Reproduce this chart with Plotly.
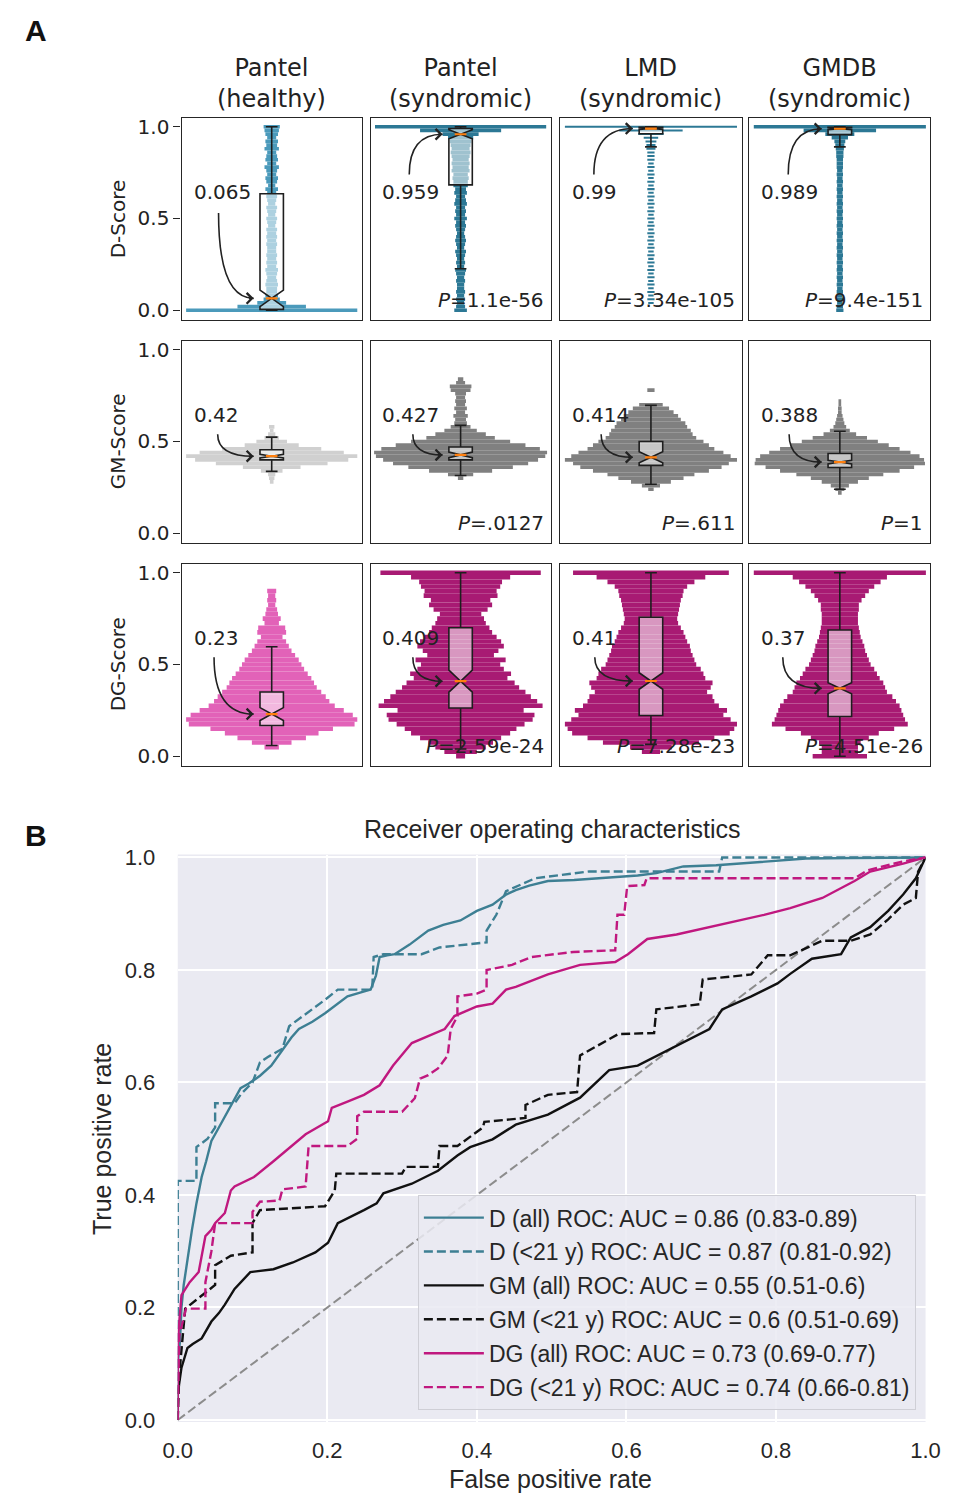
import plotly.graph_objects as go

W, H = 958, 1506

# ---------------- Panel A data ----------------
COLUMNS = ["Pantel<br>(healthy)", "Pantel<br>(syndromic)", "LMD<br>(syndromic)", "GMDB<br>(syndromic)"]
SCORES = ["D-Score", "GM-Score", "DG-Score"]

D_BINS = [0.00, 0.02, 0.04, 0.06, 0.08, 0.10, 0.12, 0.14, 0.16, 0.18, 0.20, 0.22, 0.24, 0.26, 0.28,
          0.30, 0.32, 0.34, 0.36, 0.38, 0.40, 0.42, 0.44, 0.46, 0.48, 0.50, 0.52, 0.54, 0.56, 0.58,
          0.60, 0.62, 0.64, 0.66, 0.68, 0.70, 0.72, 0.74, 0.76, 0.78, 0.80, 0.82, 0.84, 0.86, 0.88,
          0.90, 0.92, 0.94, 0.96, 0.98, 1.00]
GM_BINS = [0.20, 0.22, 0.24, 0.26, 0.28, 0.30, 0.32, 0.34, 0.36, 0.38, 0.40, 0.42, 0.44, 0.46, 0.48,
           0.50, 0.52, 0.54, 0.56, 0.58, 0.60, 0.62, 0.64, 0.66, 0.68, 0.70, 0.72, 0.74, 0.76, 0.78,
           0.80, 0.82, 0.84, 0.86]
DG_BINS = [0.000, 0.025, 0.050, 0.075, 0.100, 0.125, 0.150, 0.175, 0.200, 0.225, 0.250, 0.275, 0.300,
           0.325, 0.350, 0.375, 0.400, 0.425, 0.450, 0.475, 0.500, 0.525, 0.550, 0.575, 0.600, 0.625,
           0.650, 0.675, 0.700, 0.725, 0.750, 0.775, 0.800, 0.825, 0.850, 0.875, 0.900, 0.925, 0.950,
           0.975, 1.000]

# half-widths of the swarm at each bin (fraction of panel half width)
d_healthy = [0.95, 0.38, 0.16, 0.09, 0.07, 0.06, 0.06, 0.07, 0.06, 0.05,
             0.06, 0.07, 0.05, 0.06, 0.05, 0.06, 0.05, 0.05, 0.06, 0.05,
             0.06, 0.05, 0.06, 0.04, 0.05, 0.06, 0.04, 0.05, 0.06, 0.04,
             0.05, 0.06, 0.05, 0.07, 0.04, 0.06, 0.07, 0.05, 0.06, 0.08,
             0.05, 0.07, 0.06, 0.05, 0.08, 0.06, 0.07, 0.05, 0.07, 0.08, 0.09]
d_pantel = [0.07, 0.05, 0.04, 0.05, 0.04, 0.05, 0.04, 0.04, 0.05, 0.04,
            0.05, 0.06, 0.04, 0.05, 0.04, 0.05, 0.06, 0.04, 0.05, 0.06,
            0.05, 0.04, 0.05, 0.06, 0.05, 0.07, 0.05, 0.06, 0.05, 0.07,
            0.06, 0.05, 0.07, 0.06, 0.08, 0.08, 0.09, 0.08, 0.10, 0.09,
            0.10, 0.09, 0.10, 0.11, 0.10, 0.11, 0.12, 0.14, 0.20, 0.45, 0.95]
d_lmd = [0.00, 0.00, 0.03, 0.04, 0.03, 0.04, 0.03, 0.04, 0.03, 0.04,
         0.03, 0.04, 0.03, 0.04, 0.03, 0.04, 0.03, 0.04, 0.03, 0.04,
         0.03, 0.04, 0.03, 0.04, 0.03, 0.04, 0.03, 0.04, 0.03, 0.04,
         0.03, 0.04, 0.03, 0.04, 0.03, 0.04, 0.03, 0.04, 0.03, 0.04,
         0.03, 0.04, 0.04, 0.04, 0.05, 0.05, 0.06, 0.08, 0.14, 0.35, 0.95]
d_gmdb = [0.04, 0.035, 0.03, 0.035, 0.03, 0.035, 0.03, 0.035, 0.03, 0.035,
          0.03, 0.035, 0.03, 0.035, 0.03, 0.035, 0.03, 0.035, 0.03, 0.035,
          0.03, 0.035, 0.03, 0.035, 0.03, 0.035, 0.03, 0.035, 0.03, 0.035,
          0.03, 0.035, 0.03, 0.035, 0.03, 0.035, 0.03, 0.035, 0.03, 0.035,
          0.035, 0.035, 0.04, 0.04, 0.045, 0.05, 0.06, 0.09, 0.16, 0.40, 0.95]

gm_healthy = [0, 0, 0, 0, 0.02, 0.03, 0.04, 0.12, 0.32, 0.62, 0.85, 0.95, 0.80, 0.55, 0.30, 0.17, 0.08,
              0.04, 0.02, 0.03, 0, 0, 0, 0, 0, 0, 0, 0, 0, 0, 0, 0, 0, 0]
gm_pantel = [0, 0, 0, 0, 0, 0.03, 0.14, 0.35, 0.58, 0.75, 0.86, 0.94, 0.96, 0.88, 0.72, 0.55, 0.38,
             0.28, 0.18, 0.11, 0.07, 0.06, 0.08, 0.05, 0.07, 0.05, 0.06, 0.05, 0.06, 0.11, 0.12, 0.05,
             0.03, 0]
gm_lmd = [0, 0, 0.03, 0.10, 0.22, 0.36, 0.48, 0.64, 0.78, 0.86, 0.95, 0.88, 0.80, 0.70, 0.64, 0.58,
          0.50, 0.46, 0.44, 0.40, 0.38, 0.33, 0.30, 0.25, 0.20, 0.13, 0, 0, 0, 0.04, 0, 0, 0, 0]
gm_gmdb = [0, 0.02, 0.05, 0.10, 0.20, 0.32, 0.48, 0.66, 0.82, 0.94, 0.93, 0.88, 0.78, 0.66, 0.54,
           0.42, 0.30, 0.18, 0.11, 0.07, 0.05, 0.04, 0.03, 0.02, 0.02, 0.015, 0.015, 0, 0, 0, 0, 0,
           0, 0]

dg_healthy = [0, 0, 0.08, 0.22, 0.38, 0.52, 0.68, 0.92, 0.95, 0.90, 0.80, 0.70, 0.64, 0.60, 0.55,
              0.50, 0.47, 0.44, 0.40, 0.36, 0.33, 0.30, 0.26, 0.22, 0.19, 0.16, 0.12, 0.16, 0.15,
              0.08, 0.10, 0.07, 0.06, 0.04, 0.05, 0.04, 0.05, 0, 0, 0, 0]
dg_pantel = [0.05, 0.18, 0.28, 0.36, 0.45, 0.55, 0.62, 0.71, 0.80, 0.82, 0.70, 0.91, 0.85, 0.78,
             0.72, 0.65, 0.60, 0.52, 0.56, 0.48, 0.44, 0.50, 0.37, 0.42, 0.48, 0.45, 0.40, 0.35,
             0.32, 0.28, 0.26, 0.23, 0.30, 0.35, 0.33, 0.41, 0.40, 0.44, 0.46, 0.55, 0.89]
dg_lmd = [0, 0.10, 0.23, 0.53, 0.70, 0.87, 0.92, 0.95, 0.88, 0.80, 0.84, 0.75, 0.70, 0.68, 0.62,
          0.66, 0.68, 0.60, 0.58, 0.55, 0.50, 0.48, 0.46, 0.44, 0.43, 0.40, 0.38, 0.36, 0.33, 0.30,
          0.29, 0.30, 0.31, 0.32, 0.33, 0.35, 0.36, 0.40, 0.48, 0.60, 0.86]
dg_gmdb = [0.30, 0.20, 0.20, 0.23, 0.32, 0.43, 0.60, 0.75, 0.72, 0.70, 0.68, 0.66, 0.62, 0.58, 0.52,
           0.50, 0.48, 0.44, 0.41, 0.38, 0.34, 0.32, 0.30, 0.28, 0.27, 0.25, 0.23, 0.22, 0.21, 0.20,
           0.20, 0.20, 0.21, 0.21, 0.24, 0.28, 0.32, 0.38, 0.45, 0.52, 0.95]

SWARMS = [[d_healthy, d_pantel, d_lmd, d_gmdb],
          [gm_healthy, gm_pantel, gm_lmd, gm_gmdb],
          [dg_healthy, dg_pantel, dg_lmd, dg_gmdb]]
ROW_BINS = [D_BINS, GM_BINS, DG_BINS]

# box statistics
BOX_Q1 = [[0.005, 0.683, 0.962, 0.957], [0.40, 0.40, 0.37, 0.358], [0.168, 0.263, 0.222, 0.217]]
BOX_MED = [[0.065, 0.959, 0.99, 0.989], [0.42, 0.427, 0.414, 0.388], [0.23, 0.409, 0.41, 0.37]]
BOX_Q3 = [[0.635, 0.99, 0.997, 0.997], [0.455, 0.47, 0.50, 0.435], [0.35, 0.70, 0.757, 0.688]]
BOX_LO = [[0.0, 0.226, 0.89, 0.89], [0.337, 0.315, 0.267, 0.24], [0.059, 0.04, 0.065, 0.0]]
BOX_HI = [[1.0, 1.0, 1.0, 1.0], [0.524, 0.588, 0.697, 0.556], [0.597, 1.0, 1.0, 1.0]]
BOX_NOTCH = [[0.045, 0.025, 0.005, 0.005], [0.01, 0.015, 0.03, 0.01], [0.035, 0.06, 0.045, 0.03]]

MED_LABELS = [["0.065", "0.959", "0.99", "0.989"],
              ["0.42", "0.427", "0.414", "0.388"],
              ["0.23", "0.409", "0.41", "0.37"]]
P_LABELS = [["", "1.1e-56", "3.34e-105", "9.4e-151"],
            ["", ".0127", ".611", "1"],
            ["", "2.59e-24", "7.28e-23", "4.51e-26"]]

# ---------------- Panel B data (ROC) ----------------
ROC_NAMES = ["D (all) ROC: AUC = 0.86 (0.83-0.89)", "D (<21 y) ROC: AUC = 0.87 (0.81-0.92)",
             "GM (all) ROC: AUC = 0.55 (0.51-0.6)", "GM (<21 y) ROC: AUC = 0.6 (0.51-0.69)",
             "DG (all) ROC: AUC = 0.73 (0.69-0.77)", "DG (<21 y) ROC: AUC = 0.74 (0.66-0.81)"]

d_all_fpr = [0, 0, 0.003, 0.005, 0.008, 0.011, 0.015, 0.019, 0.025, 0.032, 0.038, 0.045, 0.055, 0.067,
             0.076, 0.084, 0.095, 0.11, 0.125, 0.141, 0.152, 0.162, 0.18, 0.197, 0.212, 0.227, 0.245,
             0.258, 0.265, 0.27, 0.28, 0.29, 0.31, 0.335, 0.355, 0.378, 0.40, 0.421, 0.439, 0.452,
             0.47, 0.495, 0.53, 0.56, 0.59, 0.615, 0.64, 0.665, 0.676, 0.72, 0.76, 0.797, 0.84, 0.9,
             0.95, 1.0]
d_all_tpr = [0, 0.10, 0.14, 0.2, 0.24, 0.268, 0.3, 0.338, 0.385, 0.432, 0.46, 0.496, 0.52, 0.548,
             0.57, 0.59, 0.598, 0.612, 0.63, 0.66, 0.68, 0.695, 0.708, 0.723, 0.738, 0.753, 0.76,
             0.765, 0.79, 0.823, 0.826, 0.828, 0.845, 0.87, 0.88, 0.888, 0.905, 0.916, 0.934, 0.942,
             0.95, 0.958, 0.96, 0.963, 0.966, 0.968, 0.972, 0.98, 0.984, 0.986, 0.99, 0.993, 0.998,
             0.999, 1.0, 1.0]
d_y21_fpr = [0, 0, 0.025, 0.025, 0.03, 0.04, 0.05, 0.05, 0.076, 0.085, 0.1, 0.11, 0.12, 0.14, 0.149,
             0.17, 0.197, 0.214, 0.24, 0.26, 0.262, 0.275, 0.326, 0.35, 0.413, 0.413, 0.426, 0.439,
             0.478, 0.55, 0.624, 0.724, 0.728, 1.0]
d_y21_tpr = [0, 0.425, 0.425, 0.485, 0.49, 0.5, 0.52, 0.563, 0.563, 0.58, 0.6, 0.636, 0.645, 0.66,
             0.70, 0.72, 0.747, 0.765, 0.765, 0.765, 0.823, 0.828, 0.828, 0.84, 0.849, 0.87, 0.898,
             0.94, 0.963, 0.975, 0.975, 0.975, 1.0, 1.0]
gm_all_fpr = [0, 0, 0.005, 0.013, 0.02, 0.032, 0.045, 0.055, 0.063, 0.076, 0.097, 0.128, 0.154,
              0.184, 0.201, 0.214, 0.249, 0.266, 0.275, 0.313, 0.348, 0.374, 0.391, 0.421, 0.452,
              0.495, 0.538, 0.577, 0.615, 0.667, 0.711, 0.728, 0.767, 0.802, 0.819, 0.848, 0.887,
              0.9, 0.926, 0.95, 0.97, 0.987, 1.0]
gm_all_tpr = [0, 0.047, 0.093, 0.128, 0.135, 0.145, 0.175, 0.19, 0.205, 0.233, 0.263, 0.268, 0.28,
              0.298, 0.315, 0.35, 0.373, 0.385, 0.403, 0.42, 0.443, 0.47, 0.485, 0.499, 0.525,
              0.543, 0.573, 0.622, 0.63, 0.665, 0.695, 0.73, 0.753, 0.776, 0.793, 0.82, 0.828,
              0.858, 0.876, 0.905, 0.934, 0.963, 1.0]
gm_y21_fpr = [0, 0.002, 0.01, 0.032, 0.05, 0.05, 0.071, 0.1, 0.1, 0.11, 0.197, 0.21, 0.212, 0.3,
              0.305, 0.348, 0.35, 0.374, 0.408, 0.41, 0.465, 0.465, 0.495, 0.534, 0.538, 0.589,
              0.637, 0.64, 0.698, 0.702, 0.767, 0.789, 0.819, 0.862, 0.9, 0.926, 0.95, 0.97, 0.987,
              0.99, 1.0]
gm_y21_tpr = [0, 0.08, 0.198, 0.222, 0.24, 0.275, 0.292, 0.298, 0.35, 0.373, 0.38, 0.408, 0.438,
              0.438, 0.45, 0.45, 0.487, 0.487, 0.52, 0.53, 0.537, 0.56, 0.578, 0.583, 0.648, 0.686,
              0.688, 0.73, 0.739, 0.783, 0.792, 0.826, 0.826, 0.852, 0.852, 0.863, 0.89, 0.916,
              0.928, 0.975, 1.0]
dg_all_fpr = [0, 0, 0.005, 0.016, 0.028, 0.037, 0.045, 0.05, 0.063, 0.071, 0.076, 0.102, 0.128,
              0.154, 0.171, 0.201, 0.206, 0.227, 0.249, 0.27, 0.288, 0.313, 0.335, 0.357, 0.37,
              0.4, 0.421, 0.439, 0.452, 0.495, 0.538, 0.585, 0.602, 0.628, 0.667, 0.711, 0.754,
              0.784, 0.819, 0.862, 0.905, 0.926, 0.97, 1.0]
dg_all_tpr = [0, 0.14, 0.222, 0.245, 0.263, 0.327, 0.338, 0.35, 0.368, 0.408, 0.415, 0.432, 0.46,
              0.49, 0.508, 0.531, 0.555, 0.566, 0.578, 0.595, 0.63, 0.67, 0.683, 0.695, 0.718,
              0.735, 0.74, 0.765, 0.77, 0.792, 0.809, 0.814, 0.828, 0.855, 0.863, 0.876, 0.888,
              0.898, 0.91, 0.928, 0.958, 0.975, 0.989, 1.0]
dg_y21_fpr = [0, 0.002, 0.011, 0.037, 0.037, 0.045, 0.05, 0.1, 0.1, 0.11, 0.136, 0.14, 0.171, 0.175,
              0.227, 0.24, 0.24, 0.249, 0.3, 0.317, 0.324, 0.335, 0.348, 0.361, 0.365, 0.374, 0.374,
              0.4, 0.413, 0.413, 0.447, 0.473, 0.529, 0.585, 0.588, 0.597, 0.601, 0.624, 0.627,
              0.905, 0.922, 0.97, 1.0]
dg_y21_tpr = [0, 0.15, 0.198, 0.198, 0.245, 0.3, 0.35, 0.35, 0.37, 0.388, 0.39, 0.41, 0.415, 0.487,
              0.487, 0.5, 0.54, 0.548, 0.548, 0.572, 0.607, 0.613, 0.625, 0.648, 0.695, 0.718,
              0.753, 0.758, 0.765, 0.8, 0.809, 0.823, 0.832, 0.835, 0.898, 0.898, 0.949, 0.951,
              0.963, 0.963, 0.977, 0.993, 1.0]

ROC_FPR = [d_all_fpr, d_y21_fpr, gm_all_fpr, gm_y21_fpr, dg_all_fpr, dg_y21_fpr]
ROC_TPR = [d_all_tpr, d_y21_tpr, gm_all_tpr, gm_y21_tpr, dg_all_tpr, dg_y21_tpr]
ROC_TICKS = [0.0, 0.2, 0.4, 0.6, 0.8, 1.0]
ROC_TICK_LABELS = ["0.0", "0.2", "0.4", "0.6", "0.8", "1.0"]
A_TICKS = [0.0, 0.5, 1.0]
A_TICK_LABELS = ["0.0", "0.5", "1.0"]

# ---------------- styles ----------------
FONT_A = "DejaVu Sans"
FONT_B = "Liberation Sans"
TXT = "#222222"
SWARM_COLORS = [["#4b9abb", "#2c7895", "#2c7895", "#2c7895"],
                ["#d0d0d0", "#808080", "#808080", "#808080"],
                ["#e262b8", "#a81a73", "#a81a73", "#a81a73"]]
BAR_THICK = [[0.02, 0.02, 0.011, 0.02], [0.02] * 4, [0.025] * 4]
ROC_COLORS = ["#3d7f93", "#3d7f93", "#111111", "#111111", "#c0187f", "#c0187f"]
ROC_DASH = ["solid", "9px,4px", "solid", "9px,4px", "solid", "9px,4px"]

COL_PX = [(172, 358), (367, 553), (563, 750), (758, 945)]
ROW_PX = [(110, 315), (336, 541), (562, 767)]
ARROW_START = [[(-0.59, 0.53), (-0.57, 0.74), (-0.63, 0.74), (-0.57, 0.74)],
               [(-0.60, 0.54), (-0.53, 0.54), (-0.55, 0.54), (-0.56, 0.54)],
               [(-0.64, 0.54), (-0.53, 0.54), (-0.62, 0.54), (-0.63, 0.54)]]
BOX_W = 0.26


def aid(k):
    return "" if k == 1 else str(k)


fig = go.Figure()
layout = dict(width=W, height=H, margin=dict(l=0, r=0, t=0, b=0), paper_bgcolor="white",
              plot_bgcolor="white", barmode="overlay", showlegend=True,
              font=dict(family=FONT_A, color=TXT))
annotations = []
shapes = []

for r in range(3):
    for c in range(4):
        k = r * 4 + c + 1
        xa, ya = "x" + aid(k), "y" + aid(k)
        hw = SWARMS[r][c]
        fig.add_trace(go.Bar(orientation="h", y=ROW_BINS[r], x=[2 * w for w in hw],
                             base=[-w for w in hw], width=BAR_THICK[r][c],
                             marker=dict(color=SWARM_COLORS[r][c], line=dict(width=0)),
                             xaxis=xa, yaxis=ya, showlegend=False, hoverinfo="skip"))
        med = BOX_MED[r][c]
        fig.add_trace(go.Box(x=[0], q1=[BOX_Q1[r][c]], median=[med], q3=[BOX_Q3[r][c]],
                             lowerfence=[BOX_LO[r][c]], upperfence=[BOX_HI[r][c]],
                             notchspan=[BOX_NOTCH[r][c]], notched=True, notchwidth=0.5,
                             width=BOX_W, whiskerwidth=0.5, fillcolor="rgba(255,255,255,0.55)",
                             line=dict(color="#1e1e1e", width=1.6), boxpoints=False,
                             xaxis=xa, yaxis=ya, showlegend=False, hoverinfo="skip"))
        fig.add_trace(go.Scatter(x=[-BOX_W / 4, BOX_W / 4], y=[med, med], mode="lines",
                                 line=dict(color="#ff7f0e", width=2.2), xaxis=xa, yaxis=ya,
                                 showlegend=False, hoverinfo="skip"))
        x0, x1 = COL_PX[c]
        t0, b0 = ROW_PX[r]
        layout["xaxis" + aid(k)] = dict(domain=[x0 / W, x1 / W], range=[-1, 1], anchor=ya,
                                        showgrid=False, zeroline=False, showticklabels=False,
                                        ticks="", showline=True, mirror=True,
                                        linecolor="#262626", linewidth=1.4, fixedrange=True)
        layout["yaxis" + aid(k)] = dict(domain=[1 - b0 / H, 1 - t0 / H], range=[-0.052, 1.05],
                                        anchor=xa, showgrid=False, zeroline=False,
                                        tickvals=A_TICKS, ticktext=A_TICK_LABELS,
                                        showticklabels=(c == 0),
                                        ticks="outside" if c == 0 else "", ticklen=7,
                                        tickwidth=1.3, tickcolor="#262626",
                                        tickfont=dict(family=FONT_A, size=20, color=TXT),
                                        showline=True, mirror=True, linecolor="#262626",
                                        linewidth=1.4, fixedrange=True)
        # median label + curved arrow
        annotations.append(dict(x=-0.89, y=0.645, xref=xa, yref=ya, text=MED_LABELS[r][c],
                                showarrow=False, xanchor="left", yanchor="middle",
                                font=dict(family=FONT_A, size=20, color=TXT)))
        xs, ys = ARROW_START[r][c]
        xe, ye = -0.2, med
        shapes.append(dict(type="path", xref=xa, yref=ya,
                           path=f"M {xs},{ys} Q {xs},{ye} {xe},{ye}",
                           line=dict(color=TXT, width=1.6), layer="above"))
        annotations.append(dict(x=xe, y=ye, ax=xe - 0.07, ay=ye, xref=xa, yref=ya, axref=xa,
                                ayref=ya, text="", showarrow=True, arrowhead=4, arrowsize=1.3,
                                arrowwidth=1.6, arrowcolor=TXT, standoff=0))
        if P_LABELS[r][c]:
            annotations.append(dict(x=1, y=0.1, xref=xa + " domain", yref=ya + " domain",
                                    text="<i>P</i>=" + P_LABELS[r][c], showarrow=False,
                                    xanchor="right", yanchor="middle", xshift=-5,
                                    font=dict(family=FONT_A, size=20, color=TXT)))
        if r == 0:
            annotations.append(dict(x=(x0 + x1) / 2 / W, y=1 - 75 / H, xref="paper",
                                    yref="paper", text=COLUMNS[c], showarrow=False,
                                    xanchor="center", yanchor="middle",
                                    font=dict(family=FONT_A, size=24, color=TXT)))
        if c == 0:
            annotations.append(dict(x=106 / W, y=1 - (t0 + b0) / 2 / H, xref="paper",
                                    yref="paper", text=SCORES[r], textangle=-90,
                                    showarrow=False, xanchor="center", yanchor="middle",
                                    font=dict(family=FONT_A, size=20, color=TXT)))

# ---------------- Panel B ----------------
xa, ya = "x13", "y13"
fig.add_trace(go.Scatter(x=[0, 1], y=[0, 1], mode="lines",
                         line=dict(color="#8c8c8c", width=2, dash="9px,4px"),
                         xaxis=xa, yaxis=ya, showlegend=False, hoverinfo="skip"))
for i in range(6):
    fig.add_trace(go.Scatter(x=ROC_FPR[i], y=ROC_TPR[i], mode="lines", name=ROC_NAMES[i],
                             line=dict(color=ROC_COLORS[i], width=2.4, dash=ROC_DASH[i]),
                             legendgroup=str(i), xaxis=xa, yaxis=ya, hoverinfo="skip"))

layout["xaxis13"] = dict(domain=[168 / W, 940 / W], range=[0, 1], anchor=ya, showgrid=True,
                         gridcolor="white", gridwidth=1.6, zeroline=False, showline=False,
                         tickvals=ROC_TICKS, ticktext=ROC_TICK_LABELS, ticks="outside",
                         ticklen=9, tickcolor="rgba(0,0,0,0)",
                         tickfont=dict(family=FONT_B, size=22, color="#262626"))
layout["yaxis13"] = dict(domain=[1 - 1432 / H, 1 - 857 / H], range=[-0.0035, 1.005], anchor=xa,
                         showgrid=True, gridcolor="white", gridwidth=1.6, zeroline=False,
                         showline=False, tickvals=ROC_TICKS, ticktext=ROC_TICK_LABELS,
                         ticks="outside", ticklen=17, tickcolor="rgba(0,0,0,0)",
                         tickfont=dict(family=FONT_B, size=22, color="#262626"))
shapes.append(dict(type="rect", xref="x13 domain", yref="y13 domain", x0=0, x1=1, y0=0, y1=1,
                   fillcolor="#eaeaf2", line=dict(width=0), layer="below"))

annotations.append(dict(x=555 / W, y=1 - 831 / H, xref="paper", yref="paper",
                        text="Receiver operating characteristics", showarrow=False,
                        xanchor="center", yanchor="middle",
                        font=dict(family=FONT_B, size=25, color="#262626")))
annotations.append(dict(x=553 / W, y=1 - 1490 / H, xref="paper", yref="paper",
                        text="False positive rate", showarrow=False, xanchor="center",
                        yanchor="middle", font=dict(family=FONT_B, size=25, color="#262626")))
annotations.append(dict(x=90 / W, y=1 - 1145 / H, xref="paper", yref="paper",
                        text="True positive rate", showarrow=False, textangle=-90,
                        xanchor="center", yanchor="middle",
                        font=dict(family=FONT_B, size=25, color="#262626")))
annotations.append(dict(x=22 / W, y=1 - 22 / H, xref="paper", yref="paper", text="<b>A</b>",
                        showarrow=False, xanchor="center", yanchor="middle",
                        font=dict(family=FONT_B, size=30, color="#111111")))
annotations.append(dict(x=22 / W, y=1 - 838 / H, xref="paper", yref="paper", text="<b>B</b>",
                        showarrow=False, xanchor="center", yanchor="middle",
                        font=dict(family=FONT_B, size=30, color="#111111")))

layout["legend"] = dict(x=930 / W, xanchor="right", y=1 - 1420 / H, yanchor="bottom",
                        bgcolor="rgba(234,234,242,0.85)", bordercolor="#cfcfd6", borderwidth=1,
                        font=dict(family=FONT_B, size=23, color="#262626"), tracegroupgap=1,
                        itemwidth=60)
layout["annotations"] = annotations
layout["shapes"] = shapes
fig.update_layout(**layout)
fig.write_html("out.html", config={"displayModeBar": False},
               post_script="document.body.style.margin='0px';document.body.style.overflow='hidden';")
